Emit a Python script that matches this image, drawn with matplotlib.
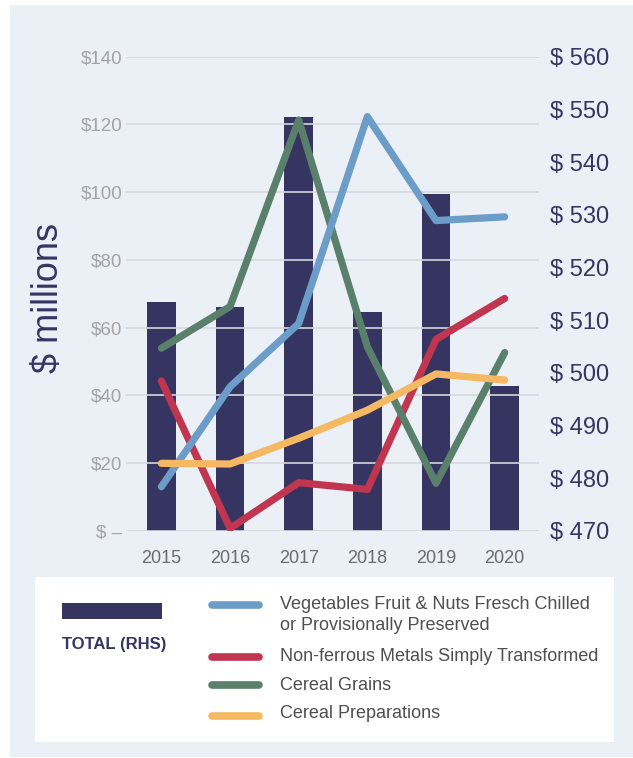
import matplotlib
matplotlib.use("Agg")
import matplotlib.pyplot as plt
from matplotlib.patches import Rectangle
from matplotlib.lines import Line2D

# ---------------- data ----------------
years = ["2015", "2016", "2017", "2018", "2019", "2020"]
total_rhs = [513.5, 512.5, 548.5, 511.5, 534.0, 497.5]          # $ millions, right axis
vegetables = [13.0, 42.5, 61.2, 122.3, 91.6, 92.7]               # left axis
nonferrous = [44.2, 0.7, 14.2, 12.2, 56.5, 68.6]
cereal_grains = [53.9, 66.2, 121.3, 54.3, 14.0, 52.6]
cereal_preps = [19.9, 19.7, 27.3, 35.6, 46.3, 44.5]

left_ticks = [0, 20, 40, 60, 80, 100, 120, 140]
left_labels = ["$ \u2013", "$20", "$40", "$60", "$80", "$100", "$120", "$140"]
right_ticks = [470, 480, 490, 500, 510, 520, 530, 540, 550, 560]
right_labels = ["$ %d" % v for v in right_ticks]

series_names = ["Vegetables Fruit & Nuts Fresch Chilled\nor Provisionally Preserved",
                "Non-ferrous Metals Simply Transformed",
                "Cereal Grains",
                "Cereal Preparations"]
total_name = "TOTAL (RHS)"
ylabel = "$ millions"

# ---------------- styles ----------------
NAVY = "#363562"
BLUE = "#6B9DC8"
RED = "#C0354F"
GREEN = "#5A7F6A"
ORANGE = "#F4B962"
BG = "#EBF0F7"
GRID = "#D6D7DC"

W, H = 633, 758
fig = plt.figure(figsize=(W / 100, H / 100), dpi=100)
fig.patch.set_facecolor("white")
plt.rcParams["font.family"] = ["Liberation Sans", "DejaVu Sans"]


def fx(x):
    return x / W


def fy(y):
    return 1 - y / H


# background panel
fig.add_artist(Rectangle((fx(10), fy(757)), fx(633) - fx(10), fy(5) - fy(757),
                         transform=fig.transFigure, facecolor=BG, edgecolor="none", zorder=-10))
# legend box
fig.add_artist(Rectangle((fx(35), fy(742)), fx(614) - fx(35), fy(577) - fy(742),
                         transform=fig.transFigure, facecolor="white", edgecolor="none", zorder=-5))

left, right, top, bottom = 126.4, 539.0, 56.7, 530.7
ax = fig.add_axes([fx(left), fy(bottom), fx(right) - fx(left), fy(top) - fy(bottom)])
ax2 = ax.twinx()
ax.set_zorder(ax2.get_zorder() + 1)
ax.patch.set_visible(False)
ax2.patch.set_visible(False)

x = list(range(len(years)))

# bars (RHS)
ax2.bar(x, total_rhs, width=0.42, color=NAVY, zorder=1)
ax2.set_ylim(470, 560)
ax2.set_yticks(right_ticks)
ax2.set_yticklabels(right_labels, color=NAVY, fontsize=17)
ax2.tick_params(axis="y", length=0, pad=8)

# lines (LHS)
ax.set_xlim(-0.51, 5.50)
ax.set_ylim(0, 140)
for t in left_ticks:
    ax.axhline(t, color=GRID, lw=1.2, zorder=1)
lw = 5.2
for vals, col, z in [(nonferrous, RED, 3), (cereal_grains, GREEN, 4),
                     (vegetables, BLUE, 5), (cereal_preps, ORANGE, 6)]:
    ax.plot(x, vals, color=col, lw=lw, solid_capstyle="round",
            solid_joinstyle="round", zorder=z)

ax.set_yticks(left_ticks)
ax.set_yticklabels(left_labels, color="#A3A3A6", fontsize=13.5)
ax.tick_params(axis="y", length=0, pad=3)
ax.set_xticks(x)
ax.set_xticklabels(years, color="#6B6B70", fontsize=13)
ax.tick_params(axis="x", length=0, pad=14)

for a in (ax, ax2):
    for s in a.spines.values():
        s.set_visible(False)

fig.text(fx(49), fy(298), ylabel, rotation=90, ha="center", va="center",
         fontsize=26, color=NAVY)

# ---------------- legend ----------------
fig.add_artist(Rectangle((fx(62), fy(619)), fx(162) - fx(62), fy(603) - fy(619),
                         transform=fig.transFigure, facecolor=NAVY, edgecolor="none"))
fig.text(fx(62), fy(645), total_name, ha="left", va="center", fontsize=12,
         fontweight="bold", color=NAVY)

leg_y_line = [605, 656.7, 685, 715.7]
leg_y_text = [615, 656.7, 685, 714]
for name, col, yl, yt in zip(series_names, [BLUE, RED, GREEN, ORANGE], leg_y_line, leg_y_text):
    fig.add_artist(Line2D([fx(212), fx(259)], [fy(yl), fy(yl)], transform=fig.transFigure,
                          color=col, lw=5.5, solid_capstyle="round"))
    fig.text(fx(280), fy(yt), name, ha="left", va="center", fontsize=13,
             color="#4F4F52", linespacing=1.25)

fig.savefig("out.png", dpi=100, facecolor=fig.get_facecolor())
